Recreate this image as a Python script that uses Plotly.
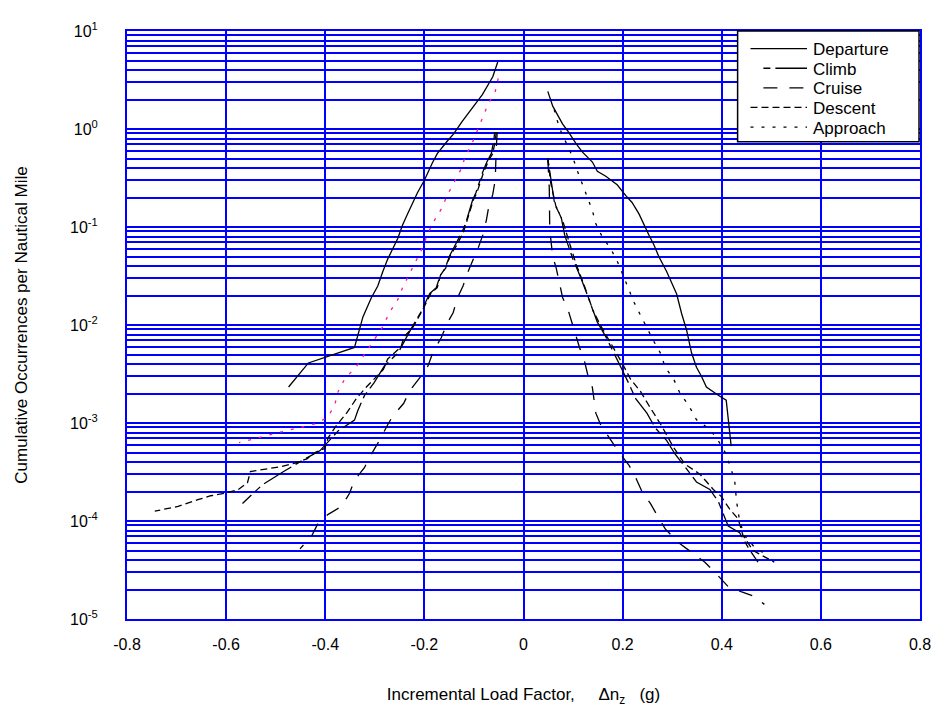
import plotly.graph_objects as go

# ---------------- data ----------------
departure_neg_x = [-0.052, -0.062, -0.083, -0.106, -0.124, -0.141, -0.154, -0.174, -0.184, -0.200, -0.214, -0.234, -0.244, -0.254, -0.274, -0.284, -0.294, -0.307, -0.324, -0.341, -0.434, -0.474]
departure_neg_y = [4.82, 3.41, 2.24, 1.58, 1.19, 0.89, 0.75, 0.56, 0.45, 0.30, 0.224, 0.136, 0.105, 0.076, 0.047, 0.035, 0.025, 0.019, 0.0121, 0.0059, 0.0041, 0.00233]
departure_pos_x = [0.049, 0.059, 0.079, 0.089, 0.106, 0.119, 0.139, 0.149, 0.166, 0.189, 0.206, 0.219, 0.233, 0.243, 0.253, 0.263, 0.273, 0.289, 0.299, 0.309, 0.319, 0.329, 0.339, 0.349, 0.359, 0.369, 0.393, 0.409, 0.419]
departure_pos_y = [2.42, 1.71, 1.12, 0.96, 0.71, 0.58, 0.46, 0.37, 0.33, 0.27, 0.21, 0.178, 0.136, 0.104, 0.083, 0.066, 0.050, 0.035, 0.027, 0.0207, 0.0131, 0.0089, 0.0052, 0.0037, 0.0030, 0.00233, 0.00192, 0.00171, 0.00058]

climb_neg_x = [-0.058, -0.060, -0.065, -0.074, -0.083, -0.096, -0.103, -0.116, -0.124, -0.137, -0.149, -0.158, -0.168, -0.176, -0.189, -0.196, -0.206, -0.226, -0.247, -0.253, -0.281, -0.301, -0.321, -0.334, -0.341, -0.374, -0.411, -0.441, -0.484, -0.527, -0.567]
climb_neg_y = [0.93, 0.76, 0.56, 0.46, 0.355, 0.224, 0.186, 0.112, 0.089, 0.066, 0.051, 0.038, 0.032, 0.024, 0.021, 0.0178, 0.0138, 0.0093, 0.0060, 0.0052, 0.0038, 0.0026, 0.0019, 0.00135, 0.00107, 0.00083, 0.00052, 0.00043, 0.00032, 0.000234, 0.000151]
climb_pos_x = [0.049, 0.057, 0.063, 0.076, 0.083, 0.099, 0.116, 0.133, 0.149, 0.166, 0.183, 0.199, 0.213, 0.226, 0.249, 0.266, 0.289, 0.306, 0.329, 0.349, 0.376, 0.393, 0.413, 0.436, 0.453, 0.473]
climb_pos_y = [0.50, 0.263, 0.17, 0.126, 0.083, 0.048, 0.030, 0.0178, 0.0107, 0.0076, 0.0050, 0.0035, 0.0025, 0.00178, 0.00126, 0.00089, 0.00066, 0.00048, 0.00034, 0.00025, 0.00021, 0.000158, 0.000089, 0.000076, 0.000054, 0.000038]

cruise_neg_x = [-0.053, -0.055, -0.057, -0.062, -0.071, -0.075, -0.082, -0.091, -0.102, -0.113, -0.122, -0.134, -0.142, -0.154, -0.166, -0.182, -0.193, -0.207, -0.229, -0.242, -0.264, -0.274, -0.291, -0.307, -0.321, -0.341, -0.351, -0.367, -0.394, -0.414, -0.427, -0.451]
cruise_neg_y = [0.93, 0.63, 0.304, 0.215, 0.152, 0.117, 0.083, 0.062, 0.046, 0.034, 0.025, 0.0185, 0.0133, 0.0104, 0.0074, 0.0054, 0.0038, 0.0030, 0.00215, 0.00158, 0.00117, 0.00096, 0.00066, 0.00048, 0.00035, 0.00026, 0.000192, 0.000141, 0.000117, 0.000096, 0.000071, 0.000052]
cruise_pos_x = [0.049, 0.050, 0.052, 0.053, 0.056, 0.059, 0.066, 0.073, 0.079, 0.089, 0.096, 0.106, 0.113, 0.123, 0.129, 0.139, 0.143, 0.146, 0.156, 0.176, 0.193, 0.213, 0.226, 0.239, 0.256, 0.273, 0.286, 0.313, 0.339, 0.366, 0.386, 0.413, 0.439, 0.466, 0.486]
cruise_pos_y = [0.50, 0.355, 0.25, 0.093, 0.068, 0.050, 0.038, 0.027, 0.019, 0.0148, 0.0112, 0.0079, 0.0059, 0.0043, 0.0032, 0.0023, 0.0017, 0.00126, 0.00095, 0.00068, 0.00050, 0.00037, 0.00028, 0.00020, 0.000151, 0.000107, 0.000083, 0.000060, 0.000048, 0.000038, 0.000030, 0.0000214, 0.000019, 0.000017, 0.0000141]

descent_neg_x = [-0.055, -0.057, -0.062, -0.071, -0.081, -0.094, -0.101, -0.114, -0.121, -0.134, -0.147, -0.157, -0.167, -0.174, -0.187, -0.194, -0.204, -0.224, -0.241, -0.247, -0.274, -0.283, -0.317, -0.337, -0.357, -0.377, -0.394, -0.401, -0.421, -0.437, -0.461, -0.487, -0.521, -0.551, -0.557, -0.577, -0.604, -0.631, -0.657, -0.697, -0.744]
descent_neg_y = [0.93, 0.76, 0.56, 0.47, 0.355, 0.224, 0.19, 0.112, 0.089, 0.066, 0.052, 0.038, 0.033, 0.024, 0.021, 0.0178, 0.0141, 0.0093, 0.0076, 0.0060, 0.0045, 0.0035, 0.00233, 0.00178, 0.00126, 0.00095, 0.00071, 0.00055, 0.00050, 0.00043, 0.00039, 0.00036, 0.00034, 0.00032, 0.000245, 0.000207, 0.000192, 0.000181, 0.000165, 0.000141, 0.000126]
descent_pos_x = [0.049, 0.055, 0.065, 0.080, 0.090, 0.106, 0.123, 0.140, 0.155, 0.176, 0.200, 0.216, 0.236, 0.253, 0.279, 0.303, 0.326, 0.356, 0.383, 0.399, 0.416, 0.433, 0.443, 0.463, 0.480, 0.506]
descent_pos_y = [0.50, 0.28, 0.166, 0.112, 0.076, 0.042, 0.025, 0.0141, 0.010, 0.0066, 0.0040, 0.0028, 0.0021, 0.00151, 0.00093, 0.00056, 0.00038, 0.00030, 0.00021, 0.000178, 0.000132, 0.000105, 0.000071, 0.000050, 0.000045, 0.000038]

approach_neg_x = [-0.051, -0.057, -0.071, -0.081, -0.094, -0.104, -0.117, -0.127, -0.141, -0.154, -0.166, -0.181, -0.194, -0.204, -0.217, -0.231, -0.244, -0.254, -0.271, -0.284, -0.317, -0.335, -0.361, -0.374, -0.381, -0.394, -0.414, -0.441, -0.467, -0.497, -0.521, -0.547, -0.574]
approach_neg_y = [3.29, 2.42, 1.81, 1.36, 0.98, 0.71, 0.53, 0.38, 0.28, 0.21, 0.152, 0.114, 0.084, 0.061, 0.045, 0.033, 0.024, 0.018, 0.0133, 0.0096, 0.0054, 0.0039, 0.0028, 0.0021, 0.00152, 0.00117, 0.00100, 0.00093, 0.00086, 0.00079, 0.00074, 0.00068, 0.00063]
approach_pos_x = [0.062, 0.066, 0.076, 0.089, 0.099, 0.109, 0.119, 0.129, 0.139, 0.146, 0.159, 0.176, 0.189, 0.201, 0.211, 0.223, 0.236, 0.249, 0.263, 0.276, 0.286, 0.303, 0.316, 0.333, 0.349, 0.376, 0.393, 0.409, 0.419, 0.426, 0.430, 0.436, 0.446, 0.466, 0.485]
approach_pos_y = [1.58, 1.31, 0.93, 0.68, 0.52, 0.37, 0.27, 0.20, 0.147, 0.108, 0.079, 0.060, 0.045, 0.032, 0.024, 0.0171, 0.0126, 0.0093, 0.0068, 0.0052, 0.0037, 0.0028, 0.0020, 0.00152, 0.00108, 0.00086, 0.00066, 0.00048, 0.00034, 0.00026, 0.000158, 0.00010, 0.000071, 0.000054, 0.000047]

legend_names = ["Departure", "Climb", "Cruise", "Descent", "Approach"]

x_tick_vals = [-0.8, -0.6, -0.4, -0.2, 0, 0.2, 0.4, 0.6, 0.8]
x_tick_labels = ["-0.8", "-0.6", "-0.4", "-0.2", "0", "0.2", "0.4", "0.6", "0.8"]
y_decades = [1e-5, 1e-4, 1e-3, 1e-2, 1e-1, 1e0, 1e1]
y_decade_labels = ["10<sup>-5</sup>", "10<sup>-4</sup>", "10<sup>-3</sup>", "10<sup>-2</sup>",
                   "10<sup>-1</sup>", "10<sup>0</sup>", "10<sup>1</sup>"]

# ---------------- styling ----------------
BLUE = "#0000ff"
PINK = "#ff1a8c"
FONT = "Liberation Sans, Arial, sans-serif"
DASHES = {"Departure": "solid", "Climb": "7px,5px,32px,5px", "Cruise": "14px,12px",
          "Descent": "7px,4px", "Approach": "3px,8px"}

fig = go.Figure()

series = {
    "Departure": (departure_neg_x, departure_neg_y, departure_pos_x, departure_pos_y),
    "Climb": (climb_neg_x, climb_neg_y, climb_pos_x, climb_pos_y),
    "Cruise": (cruise_neg_x, cruise_neg_y, cruise_pos_x, cruise_pos_y),
    "Descent": (descent_neg_x, descent_neg_y, descent_pos_x, descent_pos_y),
    "Approach": (approach_neg_x, approach_neg_y, approach_pos_x, approach_pos_y),
}
for name in legend_names:
    nx, ny, px, py = series[name]
    neg_color = PINK if name == "Approach" else "black"
    fig.add_trace(go.Scatter(x=nx, y=ny, mode="lines", name=name, showlegend=False,
                             line=dict(color=neg_color, width=1.3, dash=DASHES[name])))
    fig.add_trace(go.Scatter(x=px, y=py, mode="lines", name=name, showlegend=False,
                             line=dict(color="black", width=1.3, dash=DASHES[name])))

# ---- legend box drawn in paper coordinates (plot area is 800 x 600 px) ----
PW, PH = 800.0, 600.0
def px_x(p):  # pixel offset from plot left -> paper
    return p / PW
def px_y(p):  # pixel offset from plot top -> paper
    return 1 - p / PH

fig.add_shape(type="rect", xref="paper", yref="paper",
              x0=px_x(616), x1=px_x(799), y0=px_y(113), y1=px_y(0),
              fillcolor="white", line=dict(color="black", width=1.5), layer="above")
row_offsets = [18, 38, 58, 78, 98]
sample_start = {"Departure": 629, "Climb": 642, "Cruise": 642, "Descent": 629, "Approach": 629}
for name, off in zip(legend_names, row_offsets):
    fig.add_shape(type="line", xref="paper", yref="paper",
                  x0=px_x(sample_start[name]), x1=px_x(686), y0=px_y(off), y1=px_y(off),
                  line=dict(color="black", width=1.3, dash=DASHES[name]), layer="above")
    fig.add_annotation(xref="paper", yref="paper", x=px_x(691), y=px_y(off + 1),
                       text=name, showarrow=False, xanchor="left", yanchor="middle",
                       borderpad=0, font=dict(family=FONT, size=17, color="black"))

# minor log grid values (2..9 within each decade)
y_minor_vals = []
for d in y_decades[:-1]:
    for m in range(2, 10):
        y_minor_vals.append(m * d)

# page body has an 8px margin, so the figure is 8px smaller than the window
fig.update_layout(
    width=935, height=705,
    margin=dict(l=119, r=16, t=17, b=88),
    paper_bgcolor="white", plot_bgcolor="white",
    font=dict(family=FONT, size=15, color="black"),
    showlegend=False,
    xaxis=dict(range=[-0.8, 0.8], tickvals=x_tick_vals, ticktext=x_tick_labels,
               showgrid=True, gridcolor=BLUE, gridwidth=1.5,
               zeroline=True, zerolinecolor=BLUE, zerolinewidth=1.5,
               showline=True, linecolor=BLUE, linewidth=2, mirror=True,
               ticks="", tickfont=dict(size=16), ticklabelstandoff=10,
               title=dict(text="Incremental Load Factor,\u00a0\u00a0\u00a0\u00a0\u00a0\u0394n<sub>z</sub>\u00a0\u00a0\u00a0(g)",
                          font=dict(size=17), standoff=36)),
    yaxis=dict(type="log", range=[-5, 1], tickvals=y_decades, ticktext=y_decade_labels,
               showgrid=True, gridcolor=BLUE, gridwidth=1.5,
               minor=dict(tickvals=y_minor_vals, showgrid=True, gridcolor=BLUE, gridwidth=1.5, ticks=""),
               showline=True, linecolor=BLUE, linewidth=2, mirror=True,
               ticks="", tickfont=dict(size=16), ticklabelstandoff=24,
               title=dict(text="Cumulative Occurrences per Nautical Mile",
                          font=dict(size=17), standoff=38)),
)

fig.write_html("out.html")
